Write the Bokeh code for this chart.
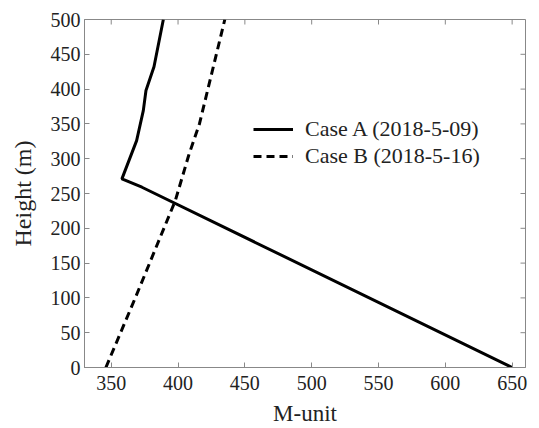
import math
from bokeh.plotting import figure
from bokeh.models import Range1d, Legend, LegendItem, FixedTicker
from bokeh.embed import file_html
from bokeh.resources import INLINE

# Case A (2018-5-09)
case_a_x = [650, 373, 358, 369, 374, 376, 382, 389]
case_a_y = [0, 259, 271, 326, 369, 398, 432, 500]
# Case B (2018-5-16)
case_b_x = [346, 368, 398, 408, 416, 435]
case_b_y = [0, 100, 240, 305, 350, 500]

x_ticks = [350, 400, 450, 500, 550, 600, 650]
y_ticks = [0, 50, 100, 150, 200, 250, 300, 350, 400, 450, 500]
x_min, x_max = 330, 660
y_min, y_max = 0, 500

FONT = "Liberation Serif"
GRAY = "#888888"
TXT = "#222222"

p = figure(width=539, height=428, output_backend="svg", toolbar_location=None,
           x_range=Range1d(x_min, x_max), y_range=Range1d(y_min, y_max),
           x_axis_label="M-unit", y_axis_label="Height (m)")
p.min_border_top = 19
p.min_border_right = 14
p.min_border_left = 84
p.min_border_bottom = 61
p.grid.visible = False
p.outline_line_color = GRAY
p.background_fill_color = "white"
p.border_fill_color = "white"

for ax in p.xaxis + p.yaxis:
    ax.axis_line_color = GRAY
    ax.major_tick_line_color = GRAY
    ax.major_tick_in = 5
    ax.major_tick_out = 0
    ax.minor_tick_line_color = None
    ax.major_label_text_font = FONT
    ax.major_label_text_font_size = "20px"
    ax.major_label_text_color = TXT
    ax.axis_label_text_font = FONT
    ax.axis_label_text_font_style = "normal"
    ax.axis_label_text_color = TXT

p.xaxis.axis_label_text_font_size = "23px"
p.yaxis.axis_label_text_font_size = "24px"
p.xaxis.ticker = FixedTicker(ticks=x_ticks)
p.yaxis.ticker = FixedTicker(ticks=y_ticks)
p.xaxis.major_label_standoff = 8
p.yaxis.major_label_standoff = 4
p.xaxis.axis_label_standoff = 8
p.yaxis.axis_label_standoff = 12

# inward ticks on top and right edges of the box
p.ray(x=x_ticks, y=[y_max] * len(x_ticks), length=5, length_units="screen",
      angle=-math.pi / 2, line_color=GRAY, line_width=1)
p.ray(x=[x_max] * len(y_ticks), y=y_ticks, length=5, length_units="screen",
      angle=math.pi, line_color=GRAY, line_width=1)

ra = p.line(case_a_x, case_a_y, line_color="black", line_width=3)
rb = p.line(case_b_x, case_b_y, line_color="black", line_width=3, line_dash="8 5")

legend = Legend(items=[LegendItem(label="Case A (2018-5-09)", renderers=[ra]),
                       LegendItem(label="Case B (2018-5-16)", renderers=[rb])],
                location=(169, 198), border_line_color=None, background_fill_alpha=0,
                padding=0, margin=0, spacing=1, glyph_width=40, glyph_height=24,
                label_height=24, label_standoff=12,
                label_text_font=FONT, label_text_font_size="22px", label_text_color=TXT)
p.add_layout(legend, "center")

open("out.html", "w").write(file_html(p, INLINE))
